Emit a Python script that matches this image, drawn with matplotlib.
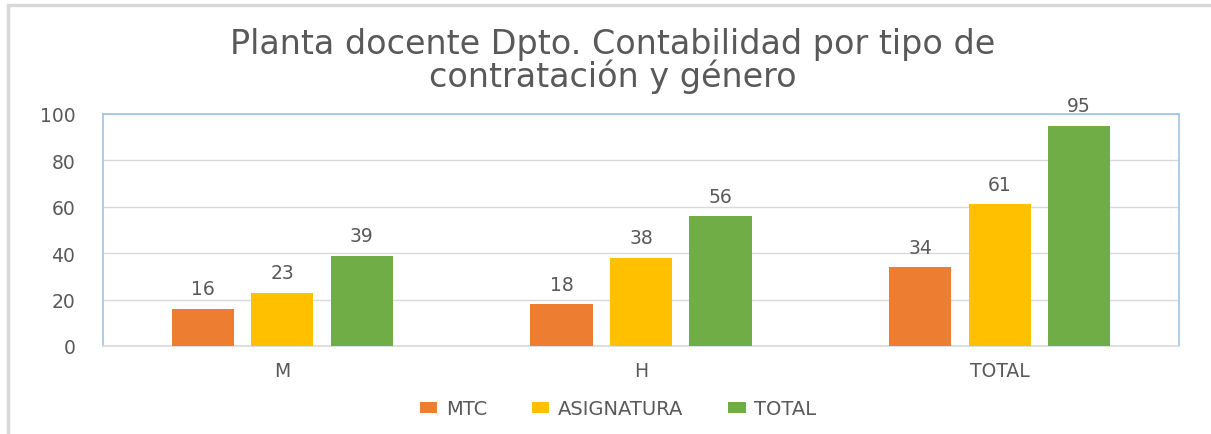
import matplotlib
matplotlib.use("Agg")
import matplotlib.pyplot as plt
import numpy as np
from matplotlib.patches import Rectangle

categories = ["M", "H", "TOTAL"]
series_names = ["MTC", "ASIGNATURA", "TOTAL"]
mtc = [16, 18, 34]
asignatura = [23, 38, 61]
total = [39, 56, 95]
colors = ["#ED7D31", "#FFC000", "#70AD47"]
yticks = [0, 20, 40, 60, 80, 100]

plt.rcParams['font.family'] = ['DejaVu Sans']
W, H = 1211, 435
fig = plt.figure(figsize=(W/100, H/100), dpi=100)

# outer chart border (clipped on right/bottom)
fig.patches.append(Rectangle((8/W, -0.05), 1.2, (H-6)/H + 0.05, transform=fig.transFigure,
                             fill=False, edgecolor="#d9d9d9", linewidth=2.5))

left, right, top, bottom = 103, 1179, 115, 347
ax = fig.add_axes([left/W, 1 - bottom/H, (right-left)/W, (bottom-top)/H])

x = np.arange(len(categories))
bw = 0.173
step = 0.2217
txtc = "#595959"
for i, (vals, name, c) in enumerate(zip([mtc, asignatura, total], series_names, colors)):
    pos = x + (i - 1) * step
    ax.bar(pos, vals, width=bw, color=c, label=name, zorder=3)
    for p, v in zip(pos, vals):
        ax.text(p, v + 4.5, str(v), ha="center", va="bottom", fontsize=13.5, color=txtc)

ax.set_xlim(-0.5, 2.5)
ax.set_ylim(0, 100)
ax.set_yticks(yticks)
ax.set_xticks(x)
ax.set_xticklabels(categories)
ax.tick_params(axis="both", length=0, labelsize=13.5, labelcolor=txtc)
ax.tick_params(axis="y", pad=20)
ax.tick_params(axis="x", pad=11)
ax.grid(axis="y", color="#d9d9d9", linewidth=1, zorder=0)
for s in ["left", "top", "right"]:
    ax.spines[s].set_color("#9dc3e6")
    ax.spines[s].set_linewidth(1.2)
ax.spines["bottom"].set_color("#d9d9d9")
ax.spines["bottom"].set_linewidth(1.2)

fig.text(613/W, 1 - 61/H, "Planta docente Dpto. Contabilidad por tipo de\ncontratación y género",
         ha="center", va="center", fontsize=24, color=txtc, linespacing=0.98)

leg = fig.legend(loc="center", bbox_to_anchor=(618/W, 1 - 410/H), ncol=3, frameon=False,
                 fontsize=14, handlelength=0.9, handleheight=0.55, columnspacing=2.3,
                 handletextpad=0.45)
for t in leg.get_texts():
    t.set_color(txtc)

fig.savefig("out.png", dpi=100, facecolor="white")
